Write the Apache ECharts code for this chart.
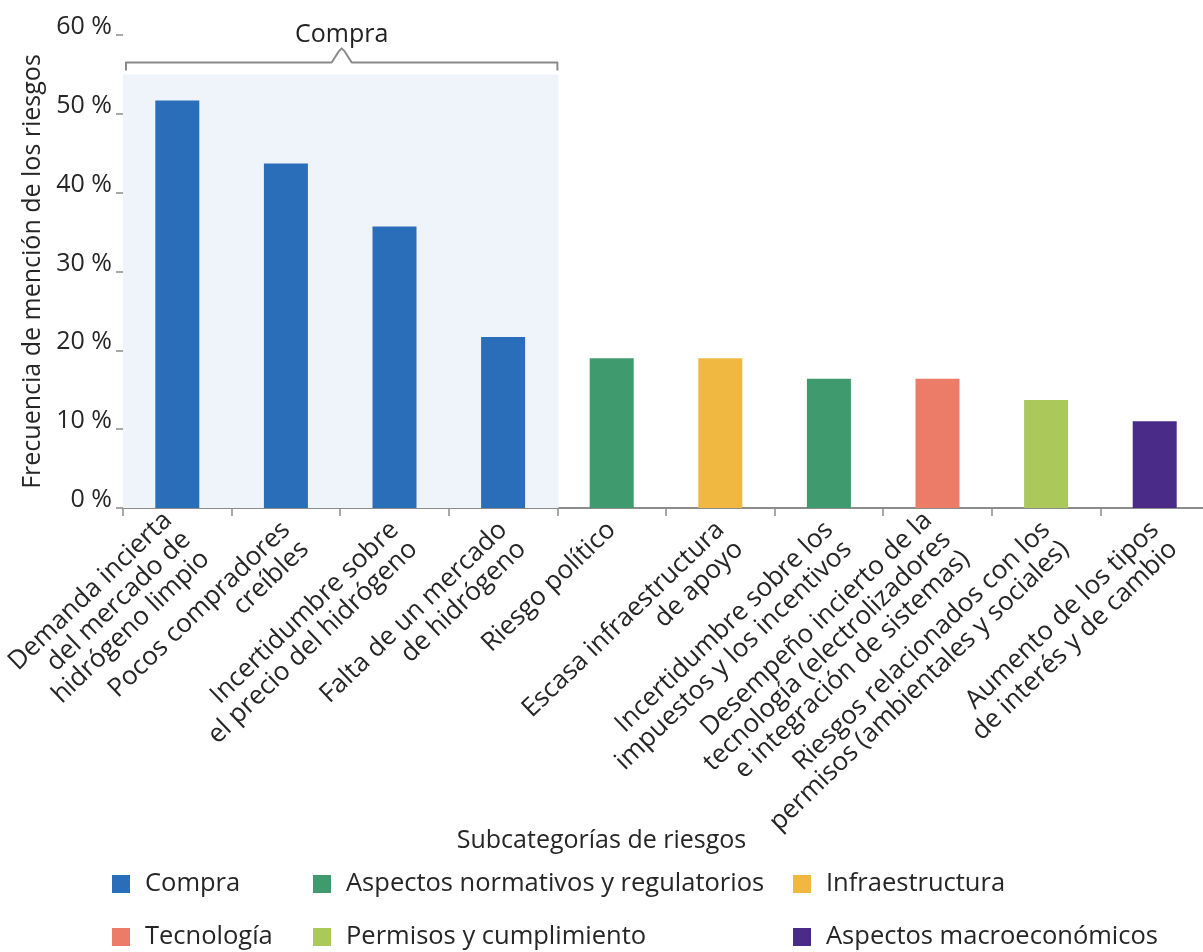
<!DOCTYPE html>
<html>
<head>
<meta charset="utf-8">
<script src="https://cdn.jsdelivr.net/npm/echarts@6/dist/echarts.min.js"></script>
<style>
html,body{margin:0;padding:0;background:#ffffff;}
#chart{width:1203px;height:952px;}
</style>
</head>
<body>
<div id="chart"></div>
<script>
// ---- data ----
const categories = [
  'Demanda incierta\ndel mercado de\nhidrógeno limpio',
  'Pocos compradores\ncreíbles',
  'Incertidumbre sobre\nel precio del hidrógeno',
  'Falta de un mercado\nde hidrógeno',
  'Riesgo político',
  'Escasa infraestructura\nde apoyo',
  'Incertidumbre sobre los\nimpuestos y los incentivos',
  'Desempeño incierto de la\ntecnología (electrolizadores\ne integración de sistemas)',
  'Riesgos relacionados con los\npermisos (ambientales y sociales)',
  'Aumento de los tipos\nde interés y de cambio'
];
const subcategoryOf = [
  'Compra', 'Compra', 'Compra', 'Compra',
  'Aspectos normativos y regulatorios',
  'Infraestructura',
  'Aspectos normativos y regulatorios',
  'Tecnología',
  'Permisos y cumplimiento',
  'Aspectos macroeconómicos'
];
const values = [51.7, 43.7, 35.7, 21.7, 19.0, 19.0, 16.4, 16.4, 13.7, 11.0];
const subcategories = [
  'Compra', 'Aspectos normativos y regulatorios', 'Infraestructura',
  'Tecnología', 'Permisos y cumplimiento', 'Aspectos macroeconómicos'
];
// legend grid: rows x columns
const legendRows = [
  ['Compra', 'Aspectos normativos y regulatorios', 'Infraestructura'],
  ['Tecnología', 'Permisos y cumplimiento', 'Aspectos macroeconómicos']
];
const yMin = 0, yMax = 60, yInterval = 10;
const bracketGroup = 'Compra';
const bracketLabel = 'Compra';
const bandTop = 55;
const yAxisTitle = 'Frecuencia de mención de los riesgos';
const legendTitle = 'Subcategorías de riesgos';

// ---- styles ----
const colors = {
  'Compra': '#2a6db8',
  'Aspectos normativos y regulatorios': '#3f9a6d',
  'Infraestructura': '#f0b840',
  'Tecnología': '#ec7b67',
  'Permisos y cumplimiento': '#abc85a',
  'Aspectos macroeconómicos': '#4a2b88'
};
const BAND = '#eef4fa';
const FONT = '"Open Sans", "DejaVu Sans", sans-serif';
const TXT = '#262626';

const chart = echarts.init(document.getElementById('chart'), null, {renderer: 'canvas'});

const barSeries = subcategories.map(s => ({
  type: 'bar',
  name: s,
  stack: 'all',
  barWidth: 44,
  z: 3,
  itemStyle: {color: colors[s]},
  data: values.map((v, i) => subcategoryOf[i] === s ? v : '-')
}));

const bandSeries = {
  type: 'bar',
  name: '_band',
  xAxisIndex: 1,
  barWidth: '102%',
  silent: true,
  z: 1,
  itemStyle: {color: BAND},
  data: subcategoryOf.map(s => s === bracketGroup ? bandTop : '-')
};

const legendLefts = [107, 308, 788];
const legendTops = [864, 917];
const legends = [];
legendRows.forEach((row, r) => row.forEach((name, c) => {
  legends.push({
    data: [name],
    left: legendLefts[c],
    top: legendTops[r],
    icon: 'rect',
    itemWidth: 18,
    itemHeight: 18,
    selectedMode: false,
    textStyle: {fontFamily: FONT, fontSize: 25.5, color: TXT, lineHeight: 30, padding: [0, 0, 0, 10]}
  });
}));

chart.setOption({
  animation: false,
  backgroundColor: '#ffffff',
  textStyle: {fontFamily: FONT},
  title: {
    text: legendTitle,
    left: 'center',
    top: 823,
    textStyle: {fontFamily: FONT, fontSize: 25, fontWeight: 'normal', color: TXT}
  },
  legend: legends,
  grid: {left: 123, top: 35, width: 1086, height: 473, containLabel: false, outerBoundsMode: 'none'},
  xAxis: [{
    type: 'category',
    data: categories,
    axisLine: {lineStyle: {color: '#8c8c8c', width: 2}},
    axisTick: {show: true, length: 8, interval: 0, lineStyle: {color: '#8c8c8c', width: 1.5}},
    axisLabel: {
      interval: 0,
      rotate: 44,
      margin: 18,
      align: 'right',
      verticalAlign: 'middle',
      hideOverlap: false,
      fontFamily: FONT,
      fontSize: 26,
      lineHeight: 27,
      color: TXT,
      // multi-line labels hang from their first line
      formatter: v => (v.indexOf('\n') >= 0 ? '\n' + v : v)
    }
  }, {
    type: 'category',
    data: categories,
    show: false
  }],
  yAxis: {
    type: 'value',
    min: yMin,
    max: yMax,
    interval: yInterval,
    name: yAxisTitle,
    nameLocation: 'middle',
    nameGap: 71,
    nameTextStyle: {fontFamily: FONT, fontSize: 25, color: TXT},
    axisLine: {show: false},
    axisTick: {show: true, length: 7, lineStyle: {color: '#8c8c8c', width: 1.5}},
    splitLine: {show: false},
    axisLabel: {
      formatter: '{value} %',
      margin: 11,
      verticalAlign: 'bottom',
      lineHeight: 16,
      fontFamily: FONT,
      fontSize: 25,
      color: TXT
    }
  },
  series: [bandSeries].concat(barSeries)
});

// bracket annotation over the group, positioned through the axes
const firstIdx = subcategoryOf.indexOf(bracketGroup);
const lastIdx = subcategoryOf.lastIndexOf(bracketGroup);
const c0 = chart.convertToPixel({xAxisIndex: 0}, 0);
const c1 = chart.convertToPixel({xAxisIndex: 0}, 1);
const half = (c1 - c0) / 2;
const bl = chart.convertToPixel({xAxisIndex: 0}, firstIdx) - half + 3;
const br = chart.convertToPixel({xAxisIndex: 0}, lastIdx) + half;
const yTop = chart.convertToPixel({yAxisIndex: 0}, bandTop);
const yLine = yTop - 12;
const mid = (bl + br) / 2;
chart.setOption({
  graphic: [{
    type: 'polyline',
    silent: true,
    shape: {points: [[bl, yLine + 8], [bl, yLine], [mid - 10, yLine], [mid - 3, yLine - 11], [mid, yLine - 14], [mid + 3, yLine - 11], [mid + 10, yLine], [br, yLine], [br, yLine + 8]]},
    style: {stroke: '#8a8a8a', lineWidth: 2, fill: null, lineJoin: 'round'}
  }, {
    type: 'text',
    silent: true,
    style: {
      text: bracketLabel,
      x: mid,
      y: yLine - 15,
      align: 'center',
      verticalAlign: 'bottom',
      font: '25px ' + FONT,
      fill: '#222222'
    }
  }]
});
</script>
</body>
</html>
